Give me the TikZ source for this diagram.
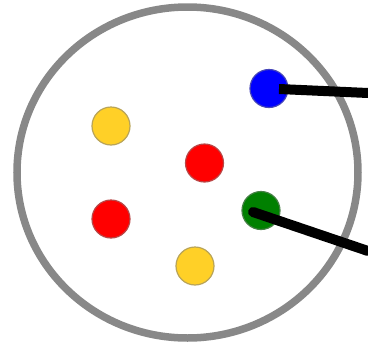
\documentclass[tikz,border=0pt]{standalone}
\usetikzlibrary{shapes.geometric}
\begin{document}
\begin{tikzpicture}[x=1pt,y=-1pt,
  dot/.style={circle,inner sep=0pt,minimum size=38pt,draw=#1!45!gray,line width=1.2pt},
  wire/.style={line width=10pt,black}]
\definecolor{ringgray}{HTML}{888888}
\definecolor{dotyellow}{HTML}{FFD027}
\definecolor{dotgreen}{HTML}{008000}
\useasboundingbox (0,0) rectangle (368,349);
\node[draw=ringgray,line width=7.5pt,ellipse,inner sep=0pt,minimum width=341pt,minimum height=331pt] (ring) at (187.5,172.5) {};
\node[dot=dotyellow,fill=dotyellow] (y1) at (111,126) {};
\node[dot=red,fill=red] (r1) at (204.5,163) {};
\node[dot=red,fill=red] (r2) at (111,219) {};
\node[dot=dotyellow,fill=dotyellow] (y2) at (195,266) {};
\node[dot=blue,fill=blue] (b) at (269,88.5) {};
\node[dot=dotgreen,fill=dotgreen] (g) at (261,210.5) {};
\coordinate (bs) at (279,89);
\coordinate (be) at (368,93);
\coordinate (gs) at (253,212);
\coordinate (ge) at (368,251);
\begin{scope}
\clip (0,0) rectangle (368,349);
\draw[wire] (bs) -- (be);
\draw[wire,line cap=round] (gs) -- (ge);
\end{scope}
\end{tikzpicture}
\end{document}
